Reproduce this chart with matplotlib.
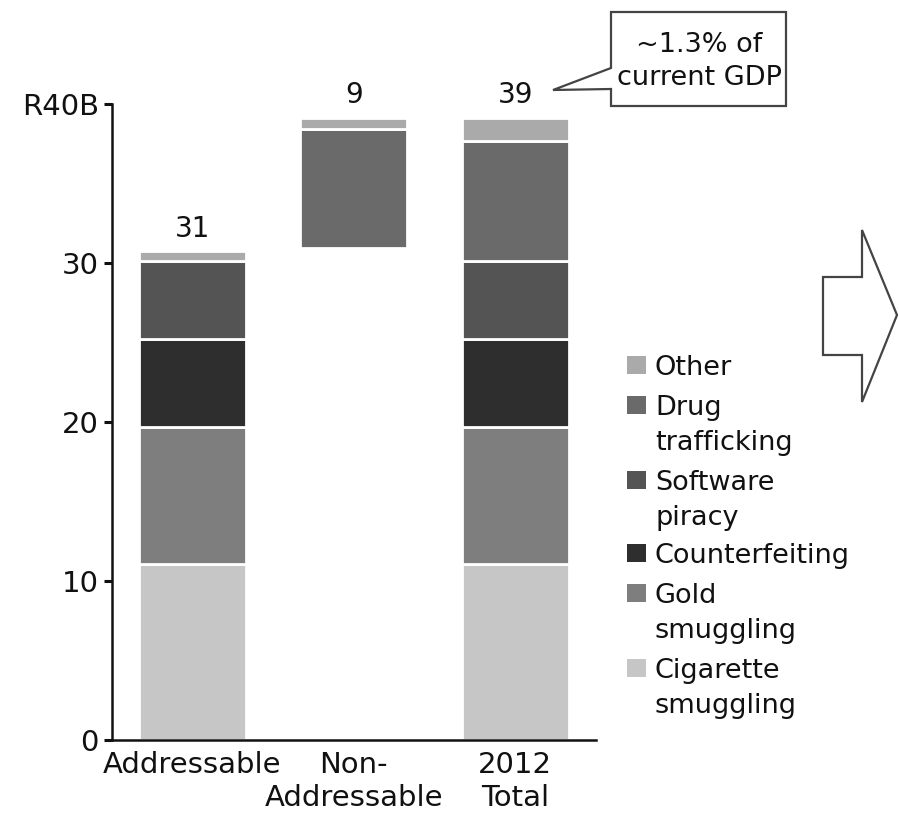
import numpy as np
import matplotlib.pyplot as plt
from matplotlib.patches import Rectangle, Polygon

plt.rcParams['font.family'] = ['DejaVu Sans']

# data (R billions)
categories = ['Addressable', 'Non-\nAddressable', '2012\nTotal']
cigarette = [11.1, 0, 11.1]
gold = [8.6, 0, 8.6]
counterfeit = [5.55, 0, 5.55]
software = [4.9, 0, 4.85]
drug = [0, 7.45, 7.6]
other = [0.6, 0.75, 1.45]
base = [0, 30.95, 0]          # non-addressable sits on top of addressable
total_labels = ['31', '9', '39']

segments = [cigarette, gold, counterfeit, software, drug, other]
colors = ['#c6c6c6', '#7e7e7e', '#2e2e2e', '#545454', '#6a6a6a', '#aaaaaa']

legend_labels = ['Other', 'Drug\ntrafficking', 'Software\npiracy',
                 'Counterfeiting', 'Gold\nsmuggling', 'Cigarette\nsmuggling']
legend_colors = colors[::-1]

yticks = [0, 10, 20, 30, 40]
ytick_labels = ['0', '10', '20', '30', 'R40B']

W, H = 899, 819
fig = plt.figure(figsize=(W / 100, H / 100), dpi=100)
ax = fig.add_axes([111.5 / W, 79 / H, 484.5 / W, 636 / H])

x = np.arange(len(categories))
bottom = np.array(base, dtype=float)
for vals, c in zip(segments, colors):
    vals = np.array(vals, dtype=float)
    m = vals > 0
    ax.bar(x[m], vals[m], bottom=bottom[m], width=0.665, color=c,
           edgecolor='white', linewidth=2.0, zorder=2)
    bottom = bottom + vals

for xi, top, lab in zip(x, bottom, total_labels):
    ax.annotate(lab, (xi, top), xytext=(0, 6), textcoords='offset points',
                ha='center', va='bottom', fontsize=20, color='#111111')

ax.set_xlim(-0.5, 2.5)
ax.set_ylim(0, 40)
ax.set_yticks(yticks)
ax.set_yticklabels(ytick_labels)
ax.set_xticks(x)
ax.set_xticklabels(categories, linespacing=1.2)
ax.tick_params(axis='y', labelsize=21, length=6, width=2.2, pad=3, colors='#111111')
ax.tick_params(axis='x', labelsize=21, length=0, pad=8, colors='#111111')
for s in ['top', 'right']:
    ax.spines[s].set_visible(False)
for s in ['left', 'bottom']:
    ax.spines[s].set_linewidth(1.8)
    ax.spines[s].set_color('#111111')

# overlay in pixel coordinates for legend, callout and arrow
ov = fig.add_axes([0, 0, 1, 1])
ov.set_xlim(0, W)
ov.set_ylim(H, 0)
ov.axis('off')

# baseline of the first line of each legend entry
leg_base = [375, 415, 490, 563, 603, 678]
for yb, lab, c in zip(leg_base, legend_labels, legend_colors):
    ov.add_patch(Rectangle((627, yb - 19), 19, 18, facecolor=c, edgecolor='none'))
    for k, line in enumerate(lab.split('\n')):
        ov.text(655, yb + 35 * k, line, fontsize=19.5, ha='left',
                va='baseline', color='#111111')

# callout box
callout = [(611, 12), (786, 12), (786, 106), (611, 106), (611, 89),
           (553, 90), (611, 68)]
ov.add_patch(Polygon(callout, closed=True, facecolor='white',
                     edgecolor='#444444', linewidth=1.6))
ov.text(699, 45, '~1.3% of', fontsize=19.5, ha='center', va='center', color='#111111')
ov.text(699, 78, 'current GDP', fontsize=19.5, ha='center', va='center', color='#111111')

# block arrow
arrow = [(823, 277), (862, 277), (862, 230), (897, 315), (862, 402),
         (862, 355), (823, 355)]
ov.add_patch(Polygon(arrow, closed=True, facecolor='white',
                     edgecolor='#444444', linewidth=1.6))

fig.savefig('out.png', dpi=100)
